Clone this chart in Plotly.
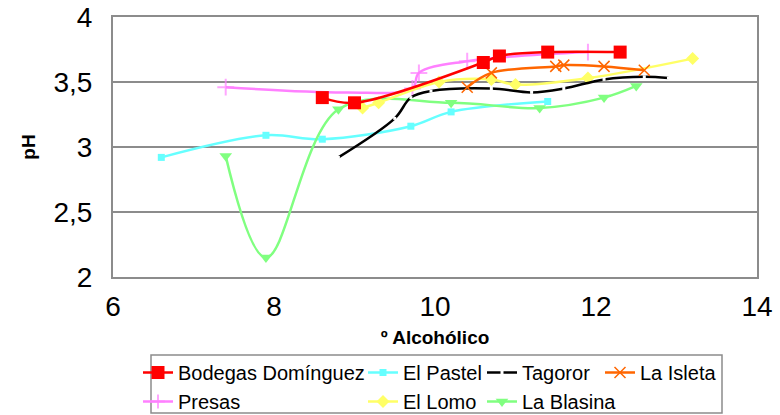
import plotly.graph_objects as go

# ---- data ----
bod_x = [8.6, 9.0, 10.6, 10.8, 11.4, 12.3]
bod_y = [3.38, 3.34, 3.65, 3.70, 3.73, 3.73]

pas_x = [6.6, 7.9, 8.6, 9.7, 10.2, 11.4]
pas_y = [2.92, 3.09, 3.06, 3.16, 3.27, 3.35]

tag_x = [8.8, 9.5, 9.7, 9.95, 10.7, 11.2, 11.6, 12.1, 12.6, 12.9]
tag_y = [2.92, 3.22, 3.38, 3.43, 3.45, 3.42, 3.45, 3.52, 3.54, 3.53]

isl_x = [10.4, 10.7, 11.5, 11.6, 12.1, 12.6]
isl_y = [3.46, 3.57, 3.62, 3.63, 3.62, 3.59]

pre_x = [7.4, 8.9, 9.72, 9.8, 10.4, 11.9]
pre_y = [3.46, 3.42, 3.45, 3.57, 3.66, 3.73]

lom_x = [9.1, 9.3, 10.05, 10.7, 11.0, 11.9, 13.2]
lom_y = [3.30, 3.34, 3.50, 3.52, 3.48, 3.53, 3.68]

bla_x = [7.4, 7.9, 8.8, 10.2, 11.3, 12.1, 12.5]
bla_y = [2.93, 2.15, 3.29, 3.34, 3.30, 3.38, 3.47]

x_ticks = [6, 8, 10, 12, 14]
y_ticks = [2, 2.5, 3, 3.5, 4]

FONT = "Liberation Sans, Arial, sans-serif"

# plot-area geometry in pixels (for placing legends / box)
L, R, T, B = 113, 757, 17, 277
PW, PH = R - L, B - T


def px2paper_x(px):
    return (px - L) / PW


def px2paper_y(py):
    return (B - py) / PH


fig = go.Figure()


def add(name, xs, ys, color, symbol, size, legend, mcolor=None, mline=None,
        width=2.5, msize=None):
    marker = dict(symbol=symbol, size=msize if msize is not None else size,
                  color=mcolor or color)
    if mline is not None:
        marker["line"] = mline
    fig.add_trace(go.Scatter(
        x=xs, y=ys, name=name, mode="lines+markers",
        line=dict(color=color, width=width, shape="spline", smoothing=1.0),
        marker=marker, legend=legend,
    ))


# Presas: the 2nd point is only a line vertex (no visible marker in the reference)
pre_msize = [12, 0, 12, 12, 12, 12]
add("Presas", pre_x, pre_y, "#FF80FF", "cross-thin-open", 12, "legend",
    mline=dict(color="#FF80FF", width=2), msize=pre_msize)
add("El Pastel", pas_x, pas_y, "#66FFFF", "square", 7, "legend2")
add("La Blasina", bla_x, bla_y, "#80FF80", "triangle-down", 11, "legend3")
add("El Lomo", lom_x, lom_y, "#FFFF66", "diamond", 10, "legend2")
add("Tagoror", tag_x, tag_y, "#000000", "square", 3, "legend3", mcolor="#FFFFFF")
add("La Isleta", isl_x, isl_y, "#FF6600", "x-thin-open", 11, "legend4",
    mline=dict(color="#FF6600", width=1.5))
add("Bodegas Domínguez", bod_x, bod_y, "#FF0000", "square", 13, "legend")

legend_common = dict(
    xanchor="left", yanchor="top",
    orientation="v", font=dict(family=FONT, size=20, color="#000000"),
    bgcolor="rgba(0,0,0,0)", borderwidth=0, itemwidth=30, tracegroupgap=0,
)
LEG_TOP = 353

fig.update_layout(
    width=780, height=415,
    margin=dict(l=L, r=780 - R, t=T, b=415 - B, autoexpand=False),
    paper_bgcolor="#FFFFFF", plot_bgcolor="#FFFFFF",
    separators=",.",
    font=dict(family=FONT, color="#000000"),
    showlegend=True,
    xaxis=dict(
        range=[6, 14], tickvals=x_ticks, showgrid=False, zeroline=False,
        showline=True, mirror=True, linecolor="#8C8C8C", linewidth=2,
        ticks="outside", ticklen=3, tickcolor="rgba(0,0,0,0)",
        tickfont=dict(size=28, family=FONT),
        title=dict(text="<b>º Alcohólico</b>", font=dict(size=19, family=FONT), standoff=10),
    ),
    yaxis=dict(
        range=[2, 4], tickvals=y_ticks, showgrid=True, gridcolor="#8C8C8C", gridwidth=2,
        zeroline=False, showline=True, mirror=True, linecolor="#8C8C8C", linewidth=2,
        ticks="outside", ticklen=13, tickcolor="rgba(0,0,0,0)",
        tickfont=dict(size=28, family=FONT),
        title=dict(text="<b>pH</b>", font=dict(size=19, family=FONT), standoff=13),
    ),
    legend=dict(legend_common, traceorder="reversed", x=px2paper_x(138), y=px2paper_y(LEG_TOP)),
    legend2=dict(legend_common, traceorder="normal", x=px2paper_x(363), y=px2paper_y(LEG_TOP)),
    legend3=dict(legend_common, traceorder="reversed", x=px2paper_x(482), y=px2paper_y(LEG_TOP)),
    legend4=dict(legend_common, traceorder="normal", x=px2paper_x(600), y=px2paper_y(LEG_TOP)),
    shapes=[dict(type="rect", xref="paper", yref="paper",
                 x0=px2paper_x(151), x1=px2paper_x(722),
                 y0=px2paper_y(413), y1=px2paper_y(355),
                 line=dict(color="#8C8C8C", width=1.5), fillcolor="rgba(0,0,0,0)")],
)

fig.write_html("out.html", config={"displayModeBar": False},
               post_script="document.body.style.margin='0';")
